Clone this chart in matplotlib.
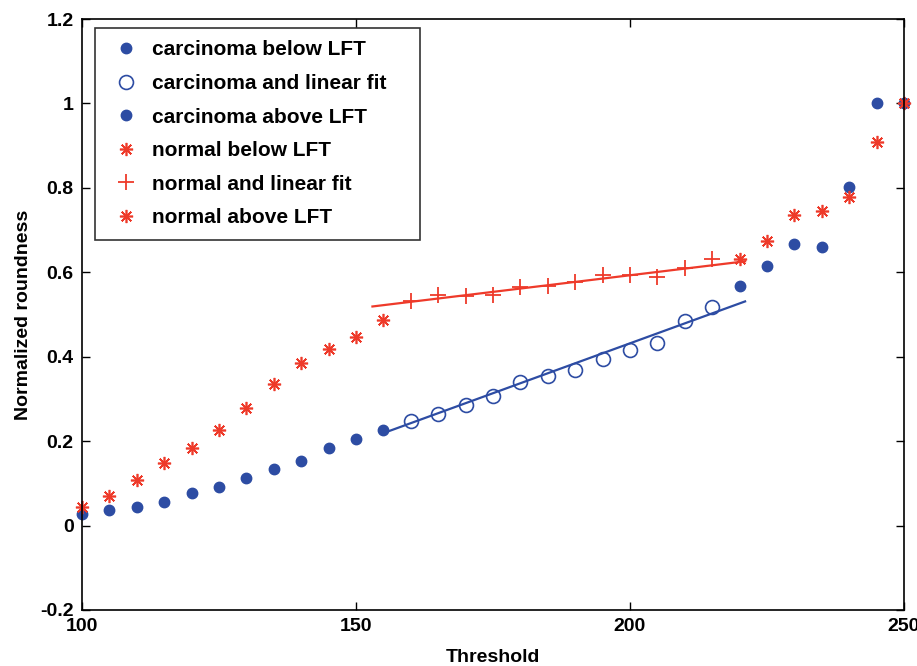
import matplotlib
matplotlib.use("Agg")
import matplotlib.pyplot as plt

plt.rcParams['font.family'] = ['Liberation Sans Narrow', 'Liberation Sans', 'DejaVu Sans']
plt.rcParams['font.weight'] = 'bold'

BLUE = '#2d4ca3'
RED = '#ee3a2a'

# carcinoma
carc_below_x = [100, 105, 110, 115, 120, 125, 130, 135, 140, 145, 150, 155]
carc_below_y = [0.028, 0.036, 0.043, 0.057, 0.078, 0.092, 0.112, 0.133, 0.154, 0.184, 0.205, 0.227]
carc_fit_x = [160, 165, 170, 175, 180, 185, 190, 195, 200, 205, 210, 215]
carc_fit_y = [0.248, 0.264, 0.285, 0.306, 0.340, 0.355, 0.368, 0.395, 0.415, 0.432, 0.484, 0.517]
carc_above_x = [220, 225, 230, 235, 240, 245, 250]
carc_above_y = [0.568, 0.616, 0.667, 0.659, 0.802, 1.0, 1.0]
carc_line_x = [155, 221]
carc_line_y = [0.219, 0.531]

# normal
norm_below_x = [100, 105, 110, 115, 120, 125, 130, 135, 140, 145, 150, 155]
norm_below_y = [0.043, 0.069, 0.107, 0.148, 0.184, 0.226, 0.278, 0.336, 0.386, 0.419, 0.447, 0.488]
norm_fit_x = [160, 165, 170, 175, 180, 185, 190, 195, 200, 205, 210, 215]
norm_fit_y = [0.531, 0.547, 0.543, 0.547, 0.565, 0.568, 0.576, 0.594, 0.594, 0.590, 0.610, 0.631]
norm_above_x = [220, 225, 230, 235, 240, 245, 250]
norm_above_y = [0.631, 0.673, 0.736, 0.746, 0.778, 0.908, 1.0]
norm_line_x = [153, 221]
norm_line_y = [0.519, 0.626]

xticks = [100, 150, 200, 250]
yticks = [-0.2, 0, 0.2, 0.4, 0.6, 0.8, 1, 1.2]
ytick_labels = ['-0.2', '0', '0.2', '0.4', '0.6', '0.8', '1', '1.2']

fig = plt.figure(figsize=(9.17, 6.66), dpi=100)
ax = fig.add_axes([82/917, 56/666, 822/917, 591/666])

ast = (8, 2, 0)

ax.plot(carc_line_x, carc_line_y, '-', color=BLUE, lw=1.6)
ax.plot(norm_line_x, norm_line_y, '-', color=RED, lw=1.6)

ax.plot(carc_below_x, carc_below_y, 'o', color=BLUE, ms=7.5, mec=BLUE, ls='none',
        label='carcinoma below LFT', clip_on=False)
ax.plot(carc_fit_x, carc_fit_y, 'o', mfc='none', mec=BLUE, ms=10, mew=1.2, ls='none',
        label='carcinoma and linear fit', clip_on=False)
ax.plot(carc_above_x, carc_above_y, 'o', color=BLUE, ms=7.5, ls='none',
        label='carcinoma above LFT', clip_on=False)
ax.plot(norm_below_x, norm_below_y, marker=ast, color=RED, ms=9.5, mew=1.2, ls='none',
        label='normal below LFT', clip_on=False)
ax.plot(norm_fit_x, norm_fit_y, marker='+', color=RED, ms=12, mew=1.3, ls='none',
        label='normal and linear fit', clip_on=False)
ax.plot(norm_above_x, norm_above_y, marker=ast, color=RED, ms=9.5, mew=1.2, ls='none',
        label='normal above LFT', clip_on=False)

ax.set_xlim(100, 250)
ax.set_ylim(-0.2, 1.2)
ax.set_xticks(xticks)
ax.set_xticklabels([str(t) for t in xticks])
ax.set_yticks(yticks)
ax.set_yticklabels(ytick_labels)
ax.tick_params(direction='in', top=True, right=True, length=6, width=1, labelsize=14, pad=6)
for s in ax.spines.values():
    s.set_linewidth(1.2)

ax.set_xlabel('Threshold', fontsize=14, fontweight='bold', labelpad=10)
ax.set_ylabel('Normalized roundness', fontsize=14, fontweight='bold', labelpad=6)

leg = ax.legend(loc='upper left', bbox_to_anchor=(0.0158, 0.0, (420 - 95) / 822, 0.985),
                mode='expand', borderaxespad=0,
                frameon=True, fancybox=False, edgecolor='black', borderpad=0.6,
                labelspacing=0.70, handlelength=1.8, handletextpad=0.35,
                prop={'weight': 'bold', 'size': 15})
leg.get_frame().set_linewidth(1.2)

fig.savefig('out.png', dpi=100)
